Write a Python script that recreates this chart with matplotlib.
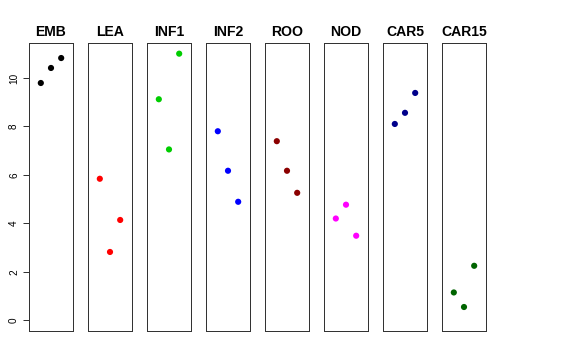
import matplotlib
matplotlib.use("Agg")
import matplotlib.pyplot as plt

plt.rcParams["font.family"] = ["Liberation Sans", "DejaVu Sans"]

# tissue panels, each with three values at x = 1, 2, 3
GROUPS = ["EMB", "LEA", "INF1", "INF2", "ROO", "NOD", "CAR5", "CAR15"]
COLORS = ["black", "red", "#00CD00", "blue", "#8B0000", "magenta", "#00008B", "#006400"]
X_POS = [1, 2, 3]
EMB = [9.79, 10.41, 10.82]
LEA = [5.84, 2.82, 4.14]
INF1 = [9.12, 7.05, 11.0]
INF2 = [7.80, 6.17, 4.89]
ROO = [7.39, 6.17, 5.26]
NOD = [4.20, 4.77, 3.49]
CAR5 = [8.10, 8.56, 9.38]
CAR15 = [1.15, 0.55, 2.25]
VALUES = [EMB, LEA, INF1, INF2, ROO, NOD, CAR5, CAR15]
Y_TICKS = [0, 2, 4, 6, 8, 10]

W, H = 576, 360
fig = plt.figure(figsize=(W / 72, H / 72), dpi=72)
fig.patch.set_facecolor("white")

left0, step, pw = 29, 59, 44
top, bottom = 43, 331

for k, (name, col, vals) in enumerate(zip(GROUPS, COLORS, VALUES)):
    ax = fig.add_axes([(left0 + k * step) / W, (H - bottom) / H,
                       pw / W, (bottom - top) / H])
    ax.scatter(X_POS, vals, s=38, color=col, edgecolors="none", zorder=3)
    ax.set_xlim(-0.16, 4.16)
    ax.set_ylim(-0.44, 11.44)
    ax.set_xticks([])
    for sp in ax.spines.values():
        sp.set_color("#333333")
        sp.set_linewidth(1.0)
    ax.set_title(name, fontsize=14, fontweight="bold", pad=7)
    if k == 0:
        ax.set_yticks(Y_TICKS)
        ax.set_yticklabels([str(t) for t in Y_TICKS], rotation=90, va="center")
        ax.tick_params(axis="y", length=6, width=1, labelsize=10, pad=4,
                       color="#333333")
    else:
        ax.set_yticks([])

fig.savefig("out.png", dpi=72, facecolor="white")
